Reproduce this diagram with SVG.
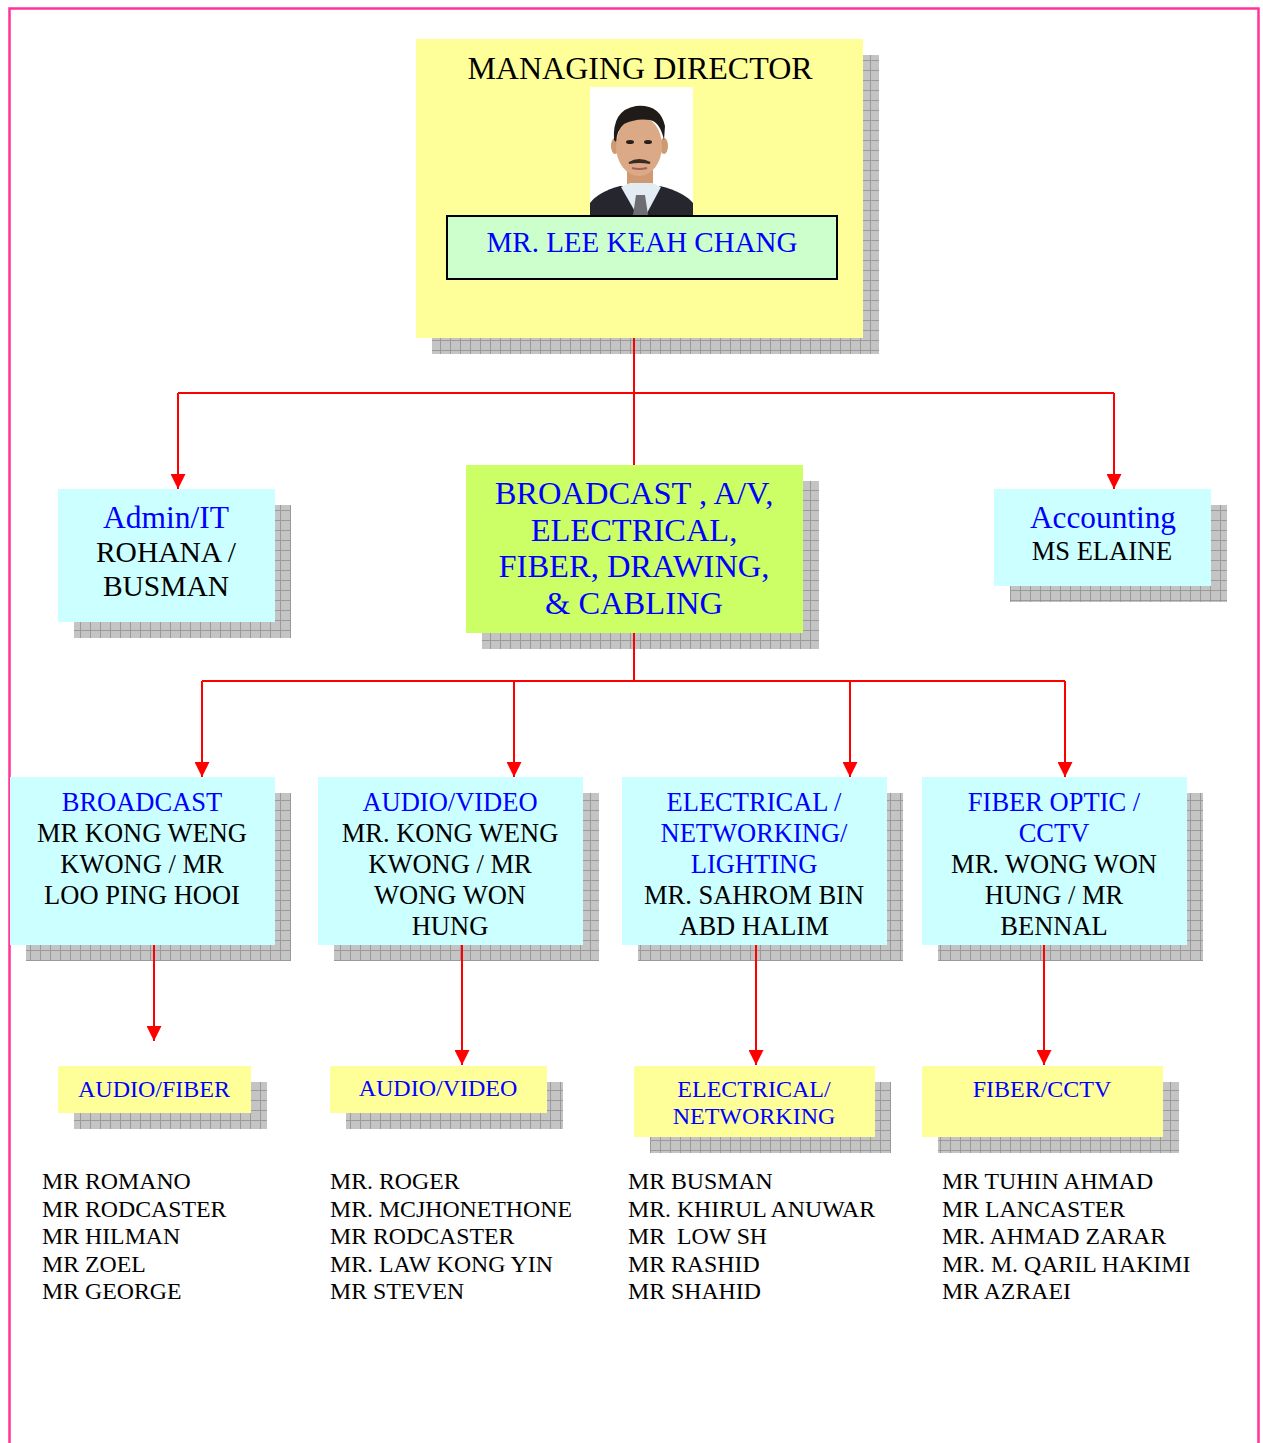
<svg xmlns="http://www.w3.org/2000/svg" width="1263" height="1443" viewBox="0 0 1263 1443">
<defs>
<pattern id="grid" width="10" height="10" patternUnits="userSpaceOnUse">
<rect width="10" height="10" fill="#c4c4c4"/>
<path d="M0,0.5 H10 M0.5,0 V10" stroke="#9a9a9a" stroke-width="1" fill="none"/>
</pattern>
<marker id="arr" markerWidth="15" markerHeight="15" refX="15" refY="7.5" orient="auto" markerUnits="userSpaceOnUse">
<path d="M0,0 L15,7.5 L0,15 Z" fill="#ff0000"/>
</marker>
</defs>
<style>
.sh{fill:url(#grid)}
.yel{fill:#ffff99}
.cyan{fill:#ccffff}
.grn{fill:#ccff66}
text{font-family:"Liberation Serif","Times New Roman",serif;text-anchor:middle}
.b{fill:#0000ff}
.k{fill:#000000}
.lst{text-anchor:start;font-size:23.8px;fill:#000}
.con{stroke:#ff0000;stroke-width:2;fill:none}
</style>
<rect width="1263" height="1443" fill="#ffffff"/>
<path d="M9.5,1443 V8.5 H1258.5 V1443" fill="none" stroke="#ff3399" stroke-width="2.5"/>

<g id="connectors">
<path class="con" d="M634,338 V465"/>
<path class="con" d="M178,393 H1114"/>
<path class="con" d="M178,393 V489" marker-end="url(#arr)"/>
<path class="con" d="M1114,393 V489" marker-end="url(#arr)"/>
<path class="con" d="M634,633 V681"/>
<path class="con" d="M202,681 H1065"/>
<path class="con" d="M202,681 V777" marker-end="url(#arr)"/>
<path class="con" d="M514,681 V777" marker-end="url(#arr)"/>
<path class="con" d="M850,681 V777" marker-end="url(#arr)"/>
<path class="con" d="M1065,681 V777" marker-end="url(#arr)"/>
<path class="con" d="M154,945 V1041" marker-end="url(#arr)"/>
<path class="con" d="M462,945 V1065" marker-end="url(#arr)"/>
<path class="con" d="M756,945 V1065" marker-end="url(#arr)"/>
<path class="con" d="M1044,945 V1065" marker-end="url(#arr)"/>
</g>

<g id="md">
<rect class="sh" x="432" y="55" width="447" height="299"/>
<rect class="yel" x="416" y="39" width="447" height="299"/>
<path class="con" d="M634,338 V354"/>
<text class="k" x="640" y="79" font-size="32">MANAGING DIRECTOR</text>
<g id="photo">
<rect x="590" y="87" width="103" height="128" fill="#ffffff"/>
<path d="M590,215 V203 Q598,192 620,186 L660,186 Q684,192 693,203 V215 Z" fill="#26262e"/>
<rect x="627" y="168" width="26" height="22" fill="#cf9a72"/>
<polygon points="621,187 637,215 646,215 661,187 652,183 630,183" fill="#e2ecf2"/>
<polygon points="636,195 645,195 648,215 633,215" fill="#6e6e72"/>
<ellipse cx="615" cy="146" rx="4" ry="8" fill="#cf9a72"/>
<ellipse cx="664" cy="146" rx="4" ry="8" fill="#cf9a72"/>
<ellipse cx="639" cy="146" rx="23" ry="30" fill="#dba985"/>
<path d="M614,140 Q612,110 636,106 Q660,104 665,126 L664,140 Q660,122 650,120 Q636,118 624,124 Q617,130 616,142 Z" fill="#1f1b19"/>
<ellipse cx="630" cy="142" rx="4" ry="2" fill="#2a1f1a"/>
<ellipse cx="648" cy="142" rx="4" ry="2" fill="#2a1f1a"/>
<path d="M629,163 Q639,157 650,163 Q639,161 629,163 Z" fill="#3a2a22" stroke="#3a2a22" stroke-width="2"/>
<path d="M632,168 Q639,170 647,168" stroke="#a0605a" stroke-width="2" fill="none"/>
</g>
<rect x="447" y="216" width="390" height="63" fill="#ccffcc" stroke="#000000" stroke-width="2"/>
<text class="b" x="642" y="252" font-size="29">MR. LEE KEAH CHANG</text>
</g>

<g id="admin">
<rect class="sh" x="74" y="505" width="217" height="133"/>
<rect class="cyan" x="58" y="489" width="217" height="133"/>
<text x="166" y="528" font-size="31.5"><tspan class="b">Admin/IT</tspan><tspan class="k" x="166" dy="34" font-size="29.5">ROHANA /</tspan><tspan class="k" x="166" dy="34" font-size="29.5">BUSMAN</tspan></text>
</g>

<g id="accounting">
<rect class="sh" x="1010" y="505" width="217" height="97"/>
<rect class="cyan" x="994" y="489" width="217" height="97"/>
<text x="1103" y="528" font-size="31.3"><tspan class="b">Accounting</tspan><tspan class="k" x="1102" dy="32" font-size="26.5">MS ELAINE</tspan></text>
</g>

<g id="broadcast-main">
<rect class="sh" x="482" y="481" width="337" height="168"/>
<rect class="grn" x="466" y="465" width="337" height="168"/>
<path class="con" d="M634,633 V649"/>
<text class="b" x="634" y="504" font-size="32.5">BROADCAST , A/V,<tspan x="634" dy="37">ELECTRICAL,</tspan><tspan x="634" dy="36">FIBER, DRAWING,</tspan><tspan x="634" dy="37">&amp; CABLING</tspan></text>
</g>

<g id="broadcast">
<rect class="sh" x="26" y="793" width="265" height="168"/>
<rect class="cyan" x="10" y="777" width="265" height="168"/>
<path class="con" d="M154,945 V961"/>
<text x="142" y="811" font-size="26.5"><tspan class="b">BROADCAST</tspan><tspan class="k" x="142" dy="31">MR KONG WENG</tspan><tspan class="k" x="142" dy="31">KWONG / MR</tspan><tspan class="k" x="142" dy="31">LOO PING HOOI</tspan></text>
</g>

<g id="audiovideo">
<rect class="sh" x="334" y="793" width="265" height="168"/>
<rect class="cyan" x="318" y="777" width="265" height="168"/>
<path class="con" d="M462,945 V961"/>
<text x="450" y="811" font-size="26.5"><tspan class="b">AUDIO/VIDEO</tspan><tspan class="k" x="450" dy="31">MR. KONG WENG</tspan><tspan class="k" x="450" dy="31">KWONG / MR</tspan><tspan class="k" x="450" dy="31">WONG WON</tspan><tspan class="k" x="450" dy="31">HUNG</tspan></text>
</g>

<g id="electrical">
<rect class="sh" x="638" y="793" width="265" height="168"/>
<rect class="cyan" x="622" y="777" width="265" height="168"/>
<path class="con" d="M756,945 V961"/>
<text x="754" y="811" font-size="26.5"><tspan class="b">ELECTRICAL /</tspan><tspan class="b" x="754" dy="31">NETWORKING/</tspan><tspan class="b" x="754" dy="31">LIGHTING</tspan><tspan class="k" x="754" dy="31">MR. SAHROM BIN</tspan><tspan class="k" x="754" dy="31">ABD HALIM</tspan></text>
</g>

<g id="fiber">
<rect class="sh" x="938" y="793" width="265" height="168"/>
<rect class="cyan" x="922" y="777" width="265" height="168"/>
<path class="con" d="M1044,945 V961"/>
<text x="1054" y="811" font-size="26.5"><tspan class="b">FIBER OPTIC /</tspan><tspan class="b" x="1054" dy="31">CCTV</tspan><tspan class="k" x="1054" dy="31">MR. WONG WON</tspan><tspan class="k" x="1054" dy="31">HUNG / MR</tspan><tspan class="k" x="1054" dy="31">BENNAL</tspan></text>
</g>

<g id="audiofiber">
<rect class="sh" x="74" y="1082" width="193" height="47"/>
<rect class="yel" x="58" y="1066" width="193" height="47"/>
<text class="b" x="154" y="1097" font-size="24">AUDIO/FIBER</text>
</g>

<g id="audiovideo-team">
<rect class="sh" x="346" y="1082" width="217" height="47"/>
<rect class="yel" x="330" y="1066" width="217" height="47"/>
<text class="b" x="438" y="1096" font-size="24">AUDIO/VIDEO</text>
</g>

<g id="electrical-team">
<rect class="sh" x="650" y="1082" width="241" height="71"/>
<rect class="yel" x="634" y="1066" width="241" height="71"/>
<text class="b" x="754" y="1097" font-size="24">ELECTRICAL/<tspan x="754" dy="27">NETWORKING</tspan></text>
</g>

<g id="fiber-team">
<rect class="sh" x="938" y="1082" width="241" height="71"/>
<rect class="yel" x="922" y="1066" width="241" height="71"/>
<text class="b" x="1042" y="1097" font-size="24">FIBER/CCTV</text>
</g>

<g id="lists">
<text class="lst" x="42" y="1189">MR ROMANO<tspan x="42" dy="27.5">MR RODCASTER</tspan><tspan x="42" dy="27.5">MR HILMAN</tspan><tspan x="42" dy="27.5">MR ZOEL</tspan><tspan x="42" dy="27.5">MR GEORGE</tspan></text>
<text class="lst" x="330" y="1189">MR. ROGER<tspan x="330" dy="27.5">MR. MCJHONETHONE</tspan><tspan x="330" dy="27.5">MR RODCASTER</tspan><tspan x="330" dy="27.5">MR. LAW KONG YIN</tspan><tspan x="330" dy="27.5">MR STEVEN</tspan></text>
<text class="lst" x="628" y="1189">MR BUSMAN<tspan x="628" dy="27.5">MR. KHIRUL ANUWAR</tspan><tspan x="628" dy="27.5">MR&#160; LOW SH</tspan><tspan x="628" dy="27.5">MR RASHID</tspan><tspan x="628" dy="27.5">MR SHAHID</tspan></text>
<text class="lst" x="942" y="1189">MR TUHIN AHMAD<tspan x="942" dy="27.5">MR LANCASTER</tspan><tspan x="942" dy="27.5">MR. AHMAD ZARAR</tspan><tspan x="942" dy="27.5">MR. M. QARIL HAKIMI</tspan><tspan x="942" dy="27.5">MR AZRAEI</tspan></text>
</g>
</svg>
